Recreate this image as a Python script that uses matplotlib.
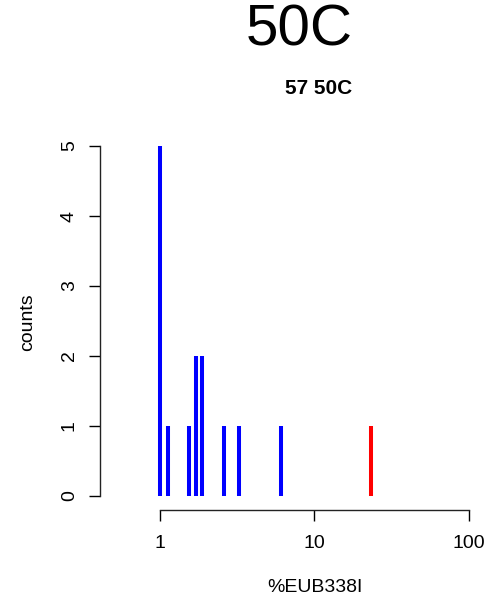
import matplotlib
matplotlib.use("Agg")
import matplotlib.pyplot as plt

plt.rcParams['font.family'] = ['Liberation Sans', 'DejaVu Sans']

# values
pct_eub = [1.0, 1.12, 1.55, 1.72, 1.88, 2.6, 3.23, 6.04, 23.2]
counts = [5, 1, 1, 2, 2, 1, 1, 1, 1]
bar_colors = ['blue'] * 8 + ['red']
x_ticks = [1, 10, 100]
y_ticks = [0, 1, 2, 3, 4, 5]

W, H = 488, 600
fig = plt.figure(figsize=(W / 100, H / 100), dpi=100)
ax = fig.add_axes([100 / W, 90 / H, 381 / W, 378 / H])

ax.vlines(pct_eub, 0, counts, colors=bar_colors, linewidth=2.9, capstyle='butt')

ax.set_xscale('log')
ax.set_xlim(0.409, 119.6)
ax.set_ylim(-0.2, 5.2)
ax.set_xticks(x_ticks)
ax.set_xticklabels([str(t) for t in x_ticks])
ax.minorticks_off()
ax.set_yticks(y_ticks)
ax.set_yticklabels([str(t) for t in y_ticks], rotation=90, va='center')

for s in ['top', 'right']:
    ax.spines[s].set_visible(False)
ax.spines['bottom'].set_bounds(1, 100)
ax.spines['left'].set_bounds(0, 5)
for s in ['bottom', 'left']:
    ax.spines[s].set_color('#222222')
    ax.spines[s].set_linewidth(1.0)

ax.tick_params(axis='x', length=8, width=1.0, pad=10, labelsize=14)
ax.tick_params(axis='y', length=8, width=1.0, pad=8, labelsize=14)

fig.text(299 / W, 1 - 30 / H, "50C", fontsize=42, ha='center', va='center')
fig.text(319 / W, 1 - 89 / H, "57 50C", fontsize=15, fontweight='bold',
         ha='center', va='center')
fig.text(28 / W, 1 - 322 / H, "counts", fontsize=14, rotation=90,
         ha='center', va='center')
fig.text(315 / W, 1 - 588 / H, "%EUB338I", fontsize=14, ha='center', va='center')

fig.savefig('out.png', dpi=100, facecolor='white')
